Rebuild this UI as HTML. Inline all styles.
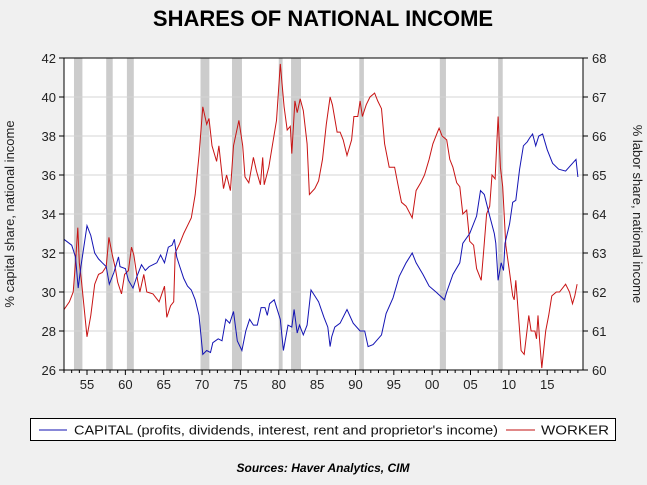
<!DOCTYPE html>
<html><head><meta charset="utf-8"><style>
body{margin:0;background:#f0f0f0;}
svg{display:block;font-family:"Liberation Sans",Arial,sans-serif;}
</style></head><body>
<svg id="chart" width="647" height="485" viewBox="0 0 647 485">
<rect x="0" y="0" width="647" height="485" fill="#f0f0f0"/>
<text x="323" y="26" text-anchor="middle" font-size="22" font-weight="bold">SHARES OF NATIONAL INCOME</text>
<rect x="64" y="58" width="519" height="312" fill="#fff"/>
<g id="rec"></g>
<g id="grid"></g>
<g id="series"></g>
<rect x="64" y="58" width="519" height="312" fill="none" stroke="#000" stroke-width="1"/>
<g id="axes" font-size="13" fill="#222"></g>
<text transform="translate(14,214) rotate(-90)" text-anchor="middle" font-size="13" fill="#222">% capital share, national income</text>
<text transform="translate(633,214) rotate(90)" text-anchor="middle" font-size="13" fill="#222">% labor share, national income</text>
<g>
<rect x="30.5" y="418.5" width="585" height="22" fill="#fff" stroke="#000"/>
<line x1="39" y1="430" x2="67" y2="430" stroke="#1010b0" stroke-width="1"/>
<text x="74" y="434.5" font-size="13" fill="#111" textLength="424" lengthAdjust="spacingAndGlyphs">CAPITAL (profits, dividends, interest, rent and proprietor's income)</text>
<line x1="506" y1="430" x2="535" y2="430" stroke="#c01010" stroke-width="1"/>
<text x="541" y="434.5" font-size="13" fill="#111" textLength="68" lengthAdjust="spacingAndGlyphs">WORKER</text>
</g>
<text x="323" y="472" text-anchor="middle" font-size="12" font-weight="bold" font-style="italic">Sources:  Haver Analytics, CIM</text>
</svg>
<script>
const recStarts=[1953.3,1957.5,1960.2,1969.8,1973.9,1980.0,1981.6,1990.5,2001.0,2008.6];
const recEnds=[1954.4,1958.35,1961.1,1970.95,1975.2,1980.5,1982.9,1991.1,2001.8,2009.2];
const leftTicks=[26,28,30,32,34,36,38,40,42];
const rightTicks=[60,61,62,63,64,65,66,67,68];
const xTickLabels=["55","60","65","70","75","80","85","90","95","00","05","10","15"];
const xTickYears=[1955,1960,1965,1970,1975,1980,1985,1990,1995,2000,2005,2010,2015];
const capYears=[1952.0,1953,1953.5,1953.85,1954.2,1955.0,1955.5,1956,1956.5,1957,1957.5,1957.9,1958.5,1959.1,1959.3,1960,1960.4,1961,1961.5,1962.1,1962.6,1963.1,1963.6,1964.1,1964.6,1965.1,1965.6,1966.1,1966.4,1966.7,1967.1,1967.6,1968.1,1968.6,1969.1,1969.6,1970.1,1970.6,1971.1,1971.4,1972.1,1972.6,1973.1,1973.6,1974.1,1974.6,1975.2,1975.7,1976.2,1976.7,1977.2,1977.7,1978.2,1978.5,1978.8,1979.4,1980.2,1980.6,1981.2,1981.7,1982.0,1982.4,1982.7,1983.2,1983.7,1984.2,1984.7,1985.2,1985.9,1986.4,1986.7,1986.9,1987.3,1988.0,1988.9,1989.7,1990.6,1991.2,1991.65,1992.3,1993.4,1994.0,1994.9,1995.7,1996.6,1997.4,1997.9,1998.8,1999.6,2000.5,2001.6,2001.9,2002.7,2003.6,2004.0,2004.9,2005.8,2006.3,2006.8,2007.5,2008.1,2008.3,2008.6,2009.0,2009.3,2009.5,2010.1,2010.5,2010.9,2011.4,2011.9,2012.4,2012.7,2013.1,2013.5,2013.9,2014.4,2015.0,2015.7,2016.5,2017.4,2018.3,2018.75,2019.0];
const capValues=[32.7,32.4,31.8,30.2,31.3,33.4,32.9,32.0,31.7,31.5,31.3,30.4,31,31.8,31.3,31.2,30.6,30.2,30.8,31.4,31.1,31.3,31.4,31.5,31.9,31.5,32.3,32.4,32.7,31.8,31.3,30.7,30.3,30.1,29.6,28.8,26.8,27.0,26.9,27.4,27.6,27.5,28.6,28.4,29.0,27.5,27.0,28.0,28.6,28.3,28.3,29.2,29.2,28.8,29.4,29.6,28.6,27.0,28.3,28.2,29.1,27.9,28.3,27.8,28.3,30.1,29.8,29.5,28.7,28.2,27.2,27.7,28.2,28.4,29.1,28.4,28.0,28.0,27.2,27.3,27.8,28.9,29.7,30.8,31.5,32.0,31.5,30.9,30.3,30.0,29.6,30.0,30.9,31.5,32.5,33.0,33.9,35.2,35.0,33.9,33.0,32.5,30.6,31.5,31.1,32.5,33.5,34.6,34.7,36.3,37.5,37.7,37.9,38.1,37.5,38.0,38.1,37.3,36.6,36.3,36.2,36.6,36.8,35.9];
const wrkYears=[1952.0,1952.7,1953.2,1953.5,1953.8,1954.0,1954.3,1955.0,1955.5,1956.0,1956.5,1957.0,1957.5,1957.85,1958.3,1958.7,1959.0,1959.5,1959.9,1960.4,1960.8,1961.1,1961.6,1961.9,1962.4,1962.8,1963.6,1964.4,1965.1,1965.4,1965.9,1966.3,1966.5,1967.1,1967.6,1968.1,1968.6,1969.1,1969.6,1970.1,1970.6,1970.9,1971.3,1971.9,1972.2,1972.8,1973.2,1973.7,1974.1,1974.8,1975.3,1975.6,1976.1,1976.7,1977.1,1977.6,1977.9,1978.1,1978.7,1979.7,1980.2,1980.7,1981.1,1981.5,1981.7,1982.1,1982.4,1982.8,1983.2,1983.7,1984.0,1984.7,1985.2,1985.7,1986.2,1986.7,1987.0,1987.6,1988.0,1988.4,1988.9,1989.5,1989.8,1990.3,1990.6,1990.9,1991.4,1991.9,1992.5,1992.9,1993.4,1993.8,1994.4,1995.1,1995.5,1996.0,1996.6,1997.4,1997.9,1998.5,1999.0,1999.6,2000.1,2000.7,2000.9,2001.3,2001.9,2002.3,2002.7,2003.2,2003.6,2004.0,2004.5,2004.9,2005.4,2005.8,2006.4,2006.7,2007.1,2007.5,2007.8,2008.2,2008.6,2008.9,2009.2,2009.6,2010.1,2010.5,2010.7,2010.9,2011.1,2011.6,2012.0,2012.6,2012.9,2013.4,2013.6,2013.8,2014.0,2014.3,2014.8,2015.2,2015.6,2016.2,2016.6,2017.4,2017.9,2018.3,2018.6,2018.9];
const wrkValues=[61.55,61.75,62.0,62.75,63.65,62.75,62.25,60.85,61.4,62.2,62.45,62.5,62.65,63.4,62.95,62.6,62.25,61.95,62.45,62.55,63.15,62.95,62.3,62.0,62.45,62.0,61.95,61.75,62.15,61.35,61.65,61.75,63.0,63.25,63.5,63.7,63.9,64.5,65.5,66.75,66.3,66.45,65.75,65.35,65.75,64.65,65.0,64.6,65.75,66.4,65.75,64.95,64.8,65.45,65.1,64.75,65.45,64.75,65.2,66.4,67.85,66.75,66.15,66.25,65.55,66.9,66.6,66.95,66.65,65.8,64.5,64.65,64.85,65.4,66.3,67.0,66.8,66.1,66.1,65.9,65.5,65.9,66.5,66.5,66.9,66.5,66.8,67.0,67.1,66.9,66.7,65.8,65.2,65.2,64.8,64.3,64.2,63.9,64.6,64.8,65.0,65.4,65.8,66.1,66.2,66.0,65.9,65.4,65.2,64.8,64.7,64.0,64.1,63.3,63.2,62.6,62.3,63.0,64.0,64.2,65.0,64.9,66.5,65.2,64.7,63.2,62.5,61.9,61.8,62.3,61.8,60.5,60.4,61.4,61.0,61.0,60.8,61.4,60.8,60.05,61.0,61.4,61.9,62.0,62.0,62.2,62.0,61.7,61.9,62.2];

const NS="http://www.w3.org/2000/svg";
const X0=64,X1=583,Y0=58,Y1=370,YR0=1952,PPY=7.67;
function xs(y){return X0+(y-YR0)*PPY;}
function yl(v){return Y1-(v-26)/(42-26)*(Y1-Y0);}
function yr(v){return Y1-(v-60)/(68-60)*(Y1-Y0);}
function mk(tag,attrs,parent){const e=document.createElementNS(NS,tag);for(const k in attrs)e.setAttribute(k,attrs[k]);parent.appendChild(e);return e;}
const rec=document.getElementById('rec'),grid=document.getElementById('grid'),ser=document.getElementById('series'),axes=document.getElementById('axes');
recStarts.forEach((s,i)=>{const r=mk('rect',{x:xs(s),y:Y0,width:xs(recEnds[i])-xs(s),height:Y1-Y0,fill:'#cccccc'},rec);

});
leftTicks.forEach((v,i)=>{const y=yl(v);
if(v>26&&v<42){const g=mk('line',{x1:X0,x2:X1,y1:y,y2:y,stroke:'#d4d4d4','stroke-width':1},grid);

}
const t=mk('line',{x1:X0-5,x2:X0,y1:y,y2:y,stroke:'#000'},axes);


const l=mk('text',{x:X0-8,y:y+5,'text-anchor':'end'},axes);l.textContent=String(v);

});
rightTicks.forEach(v=>{const y=yr(v);
const t=mk('line',{x1:X1,x2:X1+5,y1:y,y2:y,stroke:'#000'},axes);


const l=mk('text',{x:X1+9,y:y+5,'text-anchor':'start'},axes);l.textContent=String(v);

});
for(let yv=1952;yv<=2019;yv++){const x=xs(yv);
const t=mk('line',{x1:x,x2:x,y1:Y1,y2:Y1+(yv%5===0?5:3),stroke:'#000'},axes);

}
xTickLabels.forEach((s,i)=>{const l=mk('text',{x:xs(xTickYears[i]),y:Y1+19,'text-anchor':'middle'},axes);l.textContent=s;

});
function path(years,vals,f){return years.map((y,i)=>(i?'L':'M')+xs(y).toFixed(1)+','+f(vals[i]).toFixed(1)).join('');}
const pw=mk('path',{d:path(wrkYears,wrkValues,yr),fill:'none',stroke:'#c81414','stroke-width':1},ser);


const pc=mk('path',{d:path(capYears,capValues,yl),fill:'none',stroke:'#1414b4','stroke-width':1},ser);


</script>
</body></html>
